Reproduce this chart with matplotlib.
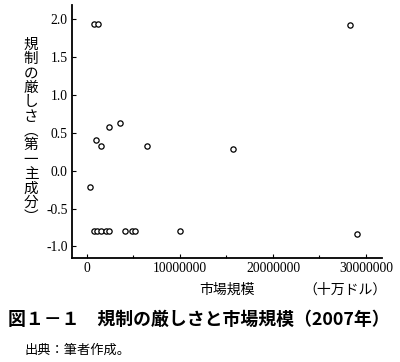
import matplotlib.pyplot as plt
import numpy as np

# データ (十万ドル, 第一主成分)
market_size = [750000, 1180000, 28300000, 2360000, 3500000, 290000, 960000,
               1530000, 6430000, 15700000, 710000, 1040000, 1500000, 2040000,
               2320000, 4070000, 4820000, 5180000, 10000000, 29000000]
strictness = [1.93, 1.93, 1.92, 0.57, 0.63, -0.21, 0.40,
              0.32, 0.32, 0.28, -0.80, -0.80, -0.80, -0.80,
              -0.80, -0.80, -0.80, -0.80, -0.80, -0.83]
x_ticks = [0, 10000000, 20000000, 30000000]
y_ticks = [-1.0, -0.5, 0.0, 0.5, 1.0, 1.5, 2.0]

ylabel = '規制の厳しさ︵第一主成分︶'
xlabel = '市場規模'
unit = '（十万ドル）'
title = '図１－１　規制の厳しさと市場規模（2007年）'
source = '出典：筆者作成。'

cjk = ['Noto Sans CJK JP', 'DejaVu Sans']

fig = plt.figure(figsize=(4, 3.62), dpi=100)
ax = fig.add_axes([72/400, 1-258/362, (382-72)/400, (258-5)/362])

ax.plot(market_size, strictness, 'o', mfc='white', mec='black',
        markersize=3.8, mew=0.9, linestyle='none')

ax.set_xlim(-1610000, 31720000)
ax.set_ylim(-1.152, 2.185)
ax.set_xticks(x_ticks)
ax.set_xticklabels([str(v) for v in x_ticks])
ax.set_xticks([5000000, 15000000, 25000000], minor=True)
ax.set_yticks(y_ticks)
ax.set_yticklabels(['%.1f' % v for v in y_ticks])
ax.spines['top'].set_visible(False)
ax.spines['right'].set_visible(False)
ax.spines['left'].set_linewidth(1.3)
ax.spines['bottom'].set_linewidth(1.3)
ax.tick_params(direction='in', length=3, width=0.8, labelsize=10, pad=3)
ax.tick_params(which='minor', direction='in', length=2, width=0.8)
for lab in ax.get_xticklabels() + ax.get_yticklabels():
    lab.set_family('Liberation Serif')
    lab.set_fontsize(9.8)

# 縦書きのラベル
fig.text(31/400, 1-131/362, '\n'.join(ylabel), family=cjk, fontsize=10.5,
         ha='center', va='center', linespacing=1.03)
fig.text(227/400, 1-290/362, xlabel, family=cjk, fontsize=10,
         ha='center', va='center')
fig.text(345/400, 1-290/362, unit, family=cjk, fontsize=10,
         ha='center', va='center')
fig.text(8/400, 1-320/362, title, family=cjk, fontsize=12.9,
         fontweight='bold', ha='left', va='center')
fig.text(25/400, 1-350/362, source, family=cjk, fontsize=9.5,
         ha='left', va='center')

fig.savefig('out.png', dpi=100)
